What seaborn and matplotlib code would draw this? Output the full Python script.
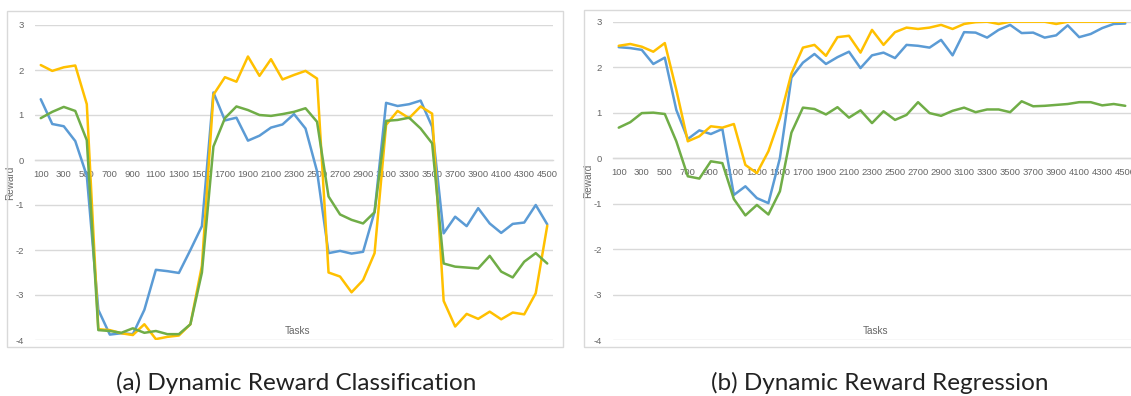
import numpy as np
import pandas as pd
import matplotlib
matplotlib.use("Agg")
import matplotlib.pyplot as plt
from matplotlib.patches import Rectangle
import seaborn as sns

# Task checkpoints (x categories)
tasks = list(range(100, 4600, 100))
tick_tasks = list(range(100, 4600, 200))
y_ticks = [-4, -3, -2, -1, 0, 1, 2, 3]

# (a) Dynamic reward, classification
cls_blue = [1.35, 0.80, 0.75, 0.42, -0.35, -3.33, -3.88, -3.85, -3.87, -3.33,
            -2.44, -2.47, -2.51, -2.00, -1.47, 1.50, 0.88, 0.94, 0.43, 0.54,
            0.72, 0.79, 1.02, 0.70, -0.25, -2.07, -2.02, -2.08, -2.04, -1.15,
            1.27, 1.20, 1.24, 1.32, 0.74, -1.63, -1.26, -1.47, -1.07, -1.41,
            -1.62, -1.42, -1.39, -1.00, -1.43]
cls_gold = [2.11, 1.98, 2.06, 2.10, 1.24, -3.76, -3.78, -3.85, -3.89, -3.65,
            -3.98, -3.93, -3.90, -3.65, -2.35, 1.45, 1.84, 1.74, 2.30, 1.87,
            2.24, 1.79, 1.89, 1.98, 1.81, -2.50, -2.59, -2.94, -2.67, -2.07,
            0.78, 1.09, 0.93, 1.19, 1.03, -3.13, -3.70, -3.42, -3.53, -3.37,
            -3.54, -3.39, -3.43, -2.96, -1.46]
cls_green = [0.93, 1.07, 1.18, 1.09, 0.44, -3.78, -3.80, -3.84, -3.74, -3.84,
             -3.80, -3.87, -3.87, -3.65, -2.50, 0.30, 0.93, 1.19, 1.11, 1.00,
             0.98, 1.02, 1.07, 1.15, 0.85, -0.81, -1.21, -1.33, -1.41, -1.16,
             0.87, 0.89, 0.94, 0.70, 0.37, -2.30, -2.37, -2.39, -2.41, -2.13,
             -2.48, -2.61, -2.26, -2.07, -2.30]

# (b) Dynamic reward, regression
reg_blue = [2.44, 2.42, 2.38, 2.07, 2.21, 1.06, 0.42, 0.61, 0.53, 0.64,
            -0.81, -0.62, -0.88, -0.99, 0.00, 1.77, 2.10, 2.29, 2.07, 2.22,
            2.34, 1.98, 2.26, 2.32, 2.20, 2.49, 2.47, 2.43, 2.60, 2.26,
            2.77, 2.76, 2.65, 2.82, 2.93, 2.75, 2.76, 2.65, 2.70, 2.92,
            2.66, 2.73, 2.86, 2.95, 2.96]
reg_gold = [2.47, 2.51, 2.45, 2.34, 2.53, 1.50, 0.37, 0.48, 0.70, 0.67,
            0.75, -0.15, -0.33, 0.15, 0.88, 1.86, 2.43, 2.49, 2.25, 2.66,
            2.69, 2.32, 2.82, 2.49, 2.77, 2.87, 2.84, 2.87, 2.93, 2.84,
            2.95, 2.99, 3.00, 2.95, 3.00, 3.00, 3.00, 3.00, 2.95, 3.00,
            3.00, 3.00, 3.00, 3.00, 3.00]
reg_green = [0.67, 0.79, 0.99, 1.00, 0.97, 0.37, -0.40, -0.45, -0.07, -0.11,
             -0.90, -1.26, -1.03, -1.24, -0.73, 0.56, 1.11, 1.08, 0.96, 1.12,
             0.89, 1.05, 0.77, 1.03, 0.84, 0.95, 1.23, 0.99, 0.93, 1.04,
             1.11, 1.01, 1.07, 1.07, 1.01, 1.25, 1.14, 1.15, 1.17, 1.19,
             1.23, 1.23, 1.16, 1.19, 1.15]

captions = ["(a) Dynamic Reward Classification", "(b) Dynamic Reward Regression"]
series_names = ["blue", "gold", "green"]
palette = {"blue": "#5B9BD5", "gold": "#FFC000", "green": "#70AD47"}

sns.set_style("white")
plt.rcParams["font.family"] = ["Liberation Sans", "DejaVu Sans"]

W, H = 1131, 396
fig = plt.figure(figsize=(W / 100, H / 100), dpi=100)


def px_rect(x0, y0, x1, y1):
    """Figure-fraction rectangle from pixel corners (top-left origin)."""
    return [x0 / W, 1 - y1 / H, (x1 - x0) / W, (y1 - y0) / H]


def long_frame(blue, gold, green):
    return pd.DataFrame({
        "Tasks": tasks * 3,
        "Reward": blue + gold + green,
        "series": sum([[n] * len(tasks) for n in series_names], []),
    })


grid_col = "#d9d9d9"
text_col = "#666666"

panels = [
    dict(data=long_frame(cls_blue, cls_gold, cls_green), frame=(7, 11, 563, 347),
         axes=(35, 25, 553, 340), caption_x=296),
    dict(data=long_frame(reg_blue, reg_gold, reg_green), frame=(584, 10, 1140, 347),
         axes=(613, 21.7, 1131, 340), caption_x=880),
]

for p, cap in zip(panels, captions):
    fx0, fy0, fx1, fy1 = p["frame"]
    fig.patches.append(Rectangle((fx0 / W, 1 - fy1 / H), (fx1 - fx0) / W, (fy1 - fy0) / H,
                                 transform=fig.transFigure, fill=False,
                                 edgecolor=grid_col, linewidth=1.0, zorder=0))
    ax = fig.add_axes(px_rect(*p["axes"]))
    ax.set_facecolor("none")
    sns.lineplot(data=p["data"], x="Tasks", y="Reward", hue="series",
                 hue_order=series_names, palette=palette, linewidth=1.8,
                 legend=False, ax=ax, zorder=3)
    ax.set_xlim(50, 4550)
    ax.set_ylim(-4, 3)
    ax.set_yticks(y_ticks)
    ax.set_yticklabels([str(v) for v in y_ticks])
    ax.set_xticks(tick_tasks)
    ax.set_xticklabels([str(t) for t in tick_tasks])
    for v in y_ticks:
        ax.axhline(v, color=grid_col, linewidth=1.0, zorder=1)
    for s in ["top", "right", "left"]:
        ax.spines[s].set_visible(False)
    ax.spines["bottom"].set_position(("data", 0))
    ax.spines["bottom"].set_color(grid_col)
    ax.spines["bottom"].set_linewidth(1.0)
    ax.tick_params(axis="x", length=0, pad=7, labelsize=6.8, labelcolor=text_col)
    ax.tick_params(axis="y", length=0, pad=8, labelsize=6.8, labelcolor=text_col)
    ax.set_xlabel("Tasks", fontsize=7.2, color=text_col)
    ax.xaxis.set_label_coords(0.507, 0.045)
    ax.set_ylabel("Reward", fontsize=7.2, color=text_col)
    ax.yaxis.set_label_coords(-0.039, 0.5)
    ax.grid(False)
    fig.text(p["caption_x"] / W, 1 - 383 / H, cap, ha="center", va="center",
             fontsize=17.5, family="Lato", color="#222222")

fig.savefig("out.png", dpi=100)
